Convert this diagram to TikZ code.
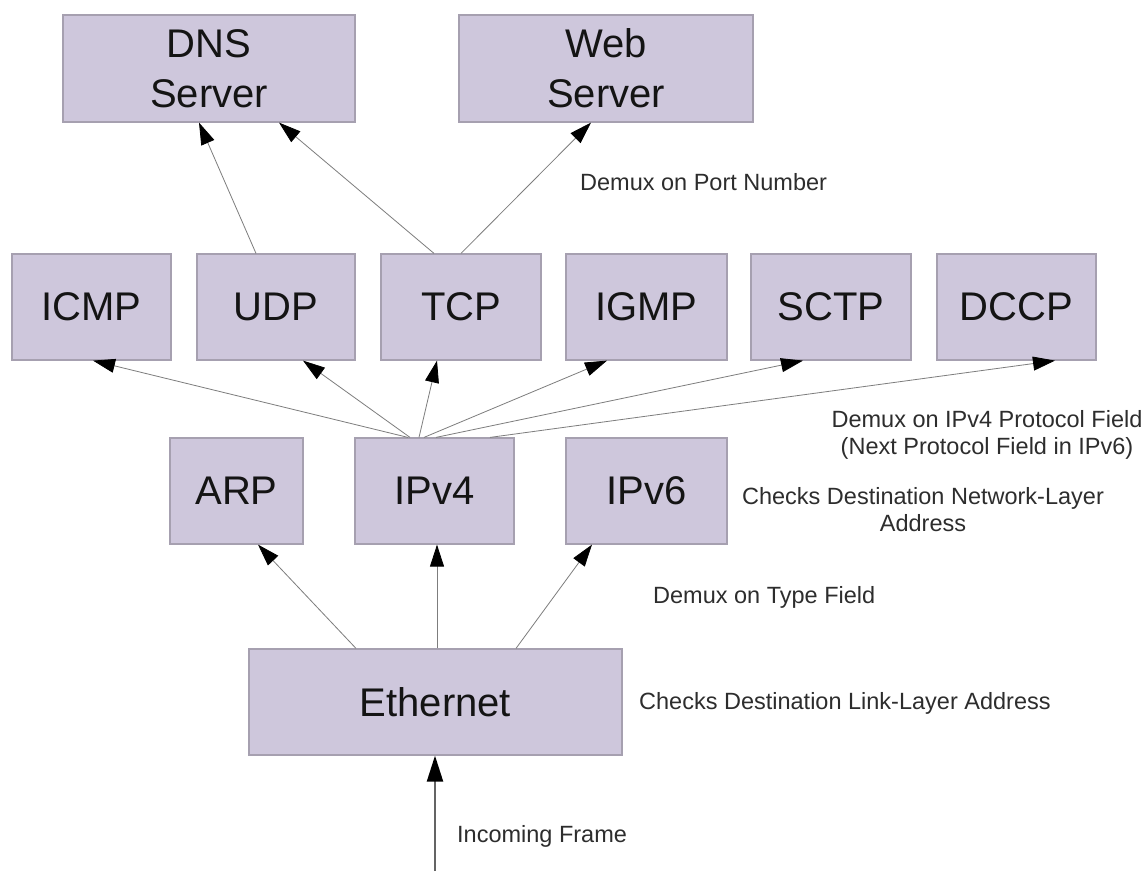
\documentclass[tikz,border=0pt]{standalone}
\usepackage{fontspec}
\setmainfont{Liberation Sans}
\usetikzlibrary{arrows.meta}
\definecolor{boxfill}{RGB}{206,199,220}
\definecolor{boxline}{RGB}{166,160,176}
\definecolor{lineg}{RGB}{125,125,125}
\definecolor{txt}{RGB}{20,20,20}
\definecolor{ltxt}{RGB}{45,45,45}
\tikzset{
  proto/.style={draw=boxline, line width=1.2pt, fill=boxfill, text=txt,
    inner sep=0pt, align=center, font=\fontsize{40}{50}\selectfont},
  lbl/.style={inner sep=0pt, text=ltxt, font=\fontsize{23.5}{27}\selectfont},
  conn/.style={draw=lineg, line width=0.8pt, -{Triangle[length=22pt,width=14pt,fill=black,color=black]}},
  inconn/.style={draw=lineg!80!black, line width=2.2pt, -{Triangle[length=26pt,width=16pt,fill=black,color=black]}}
}
\begin{document}
\begin{tikzpicture}[x=1pt,y=-1pt]
\useasboundingbox[fill=white] (0,0) rectangle (1143,871);
% top row
\node[proto, minimum width=292pt, minimum height=107pt] (dns) at (209,68.5) {DNS\\Server};
\node[proto, minimum width=294pt, minimum height=107pt] (web) at (606,68.5) {Web\\Server};
% transport row
\node[proto, minimum width=159pt, minimum height=106pt] (icmp) at (91.5,307) {ICMP};
\node[proto, minimum width=158pt, minimum height=106pt] (udp) at (276,307) {UDP};
\node[proto, minimum width=160pt, minimum height=106pt] (tcp) at (461,307) {TCP};
\node[proto, minimum width=161pt, minimum height=106pt] (igmp) at (646.5,307) {IGMP};
\node[proto, minimum width=160pt, minimum height=106pt] (sctp) at (831,307) {SCTP};
\node[proto, minimum width=159pt, minimum height=106pt] (dccp) at (1016.5,307) {DCCP};
% network row
\node[proto, minimum width=133pt, minimum height=106pt] (arp) at (236.5,491) {ARP};
\node[proto, minimum width=159pt, minimum height=106pt] (ipv4) at (434.5,491) {IPv4};
\node[proto, minimum width=161pt, minimum height=106pt] (ipv6) at (646.5,491) {IPv6};
% link
\node[proto, minimum width=373pt, minimum height=106pt] (eth) at (435.5,702) {Ethernet};
\coordinate (in) at (435,871);
% connectors
\draw[inconn] (in) -- ([xshift=-0.5pt]eth.south);
\draw[conn] ([xshift=-79.5pt]eth.north) -- ([xshift=21.5pt]arp.south);
\draw[conn] ([xshift=1.5pt]eth.north) -- ([xshift=2.5pt]ipv4.south);
\draw[conn] ([xshift=80.5pt]eth.north) -- ([xshift=-54.5pt]ipv6.south);
\draw[conn] ([xshift=-26.5pt]ipv4.north) -- ([xshift=1.5pt]icmp.south);
\draw[conn] ([xshift=-24.5pt]ipv4.north) -- ([xshift=27pt]udp.south);
\draw[conn] ([xshift=-15.5pt]ipv4.north) -- ([xshift=-24pt]tcp.south);
\draw[conn] ([xshift=-10.5pt]ipv4.north) -- ([xshift=-39.5pt]igmp.south);
\draw[conn] ([xshift=1.5pt]ipv4.north) -- ([xshift=-28pt]sctp.south);
\draw[conn] ([xshift=55.5pt]ipv4.north) -- ([xshift=38.5pt]dccp.south);
\draw[conn] ([xshift=-20pt]udp.north) -- ([xshift=-10pt]dns.south);
\draw[conn] ([xshift=-27pt]tcp.north) -- ([xshift=70pt]dns.south);
\draw[conn] (tcp.north) -- ([xshift=-15pt]web.south);
% labels
\node[lbl, anchor=base west] (lport) at (580,190) {Demux on Port Number};
\node[lbl, align=center] (lproto) at (987,434.5) {Demux on IPv4 Protocol Field\\(Next Protocol Field in IPv6)};
\node[lbl, align=center] (lnet) at (923,510) {Checks Destination Network-Layer\\Address};
\node[lbl, anchor=base west] (ltype) at (653,603) {Demux on Type Field};
\node[lbl, anchor=base west] (llink) at (639,709) {Checks Destination Link-Layer Address};
\node[lbl, anchor=base west] (lin) at (457,842) {Incoming Frame};
\end{tikzpicture}
\end{document}
